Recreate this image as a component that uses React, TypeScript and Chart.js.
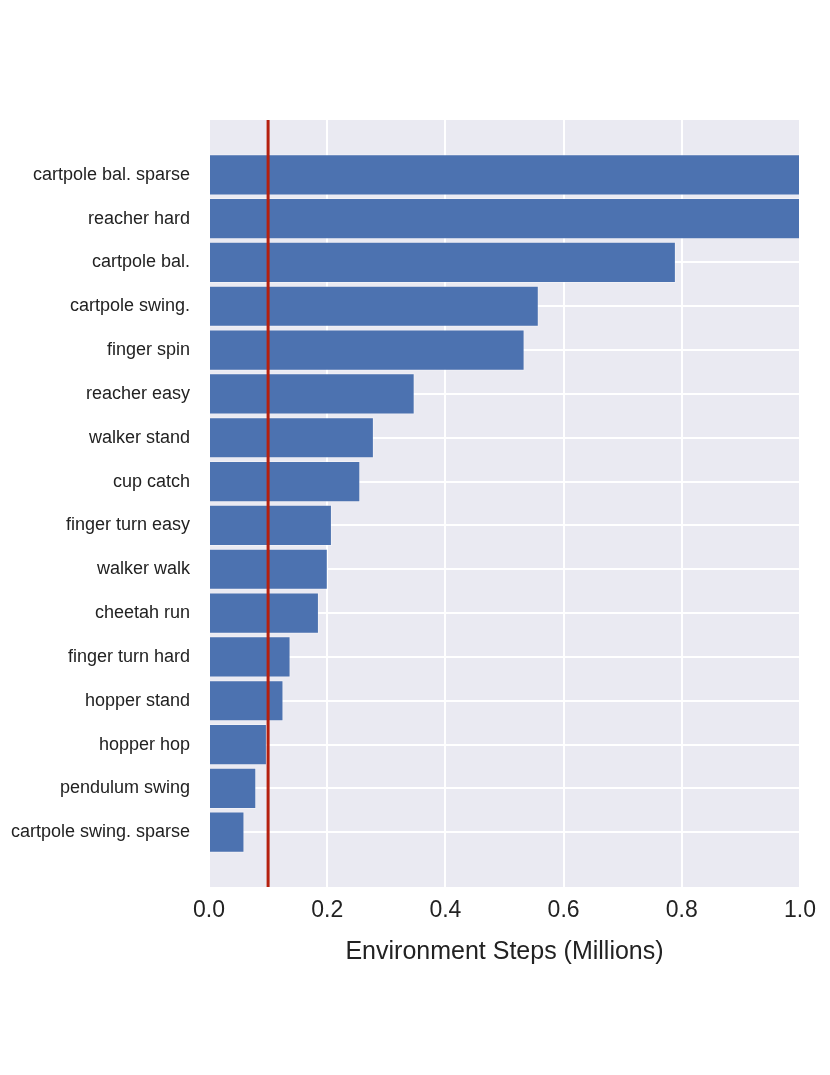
import { useEffect, useRef } from "react";
import { Chart, registerables } from "chart.js";
Chart.register(...registerables);

const tasks = [
  "cartpole bal. sparse",
  "reacher hard",
  "cartpole bal.",
  "cartpole swing.",
  "finger spin",
  "reacher easy",
  "walker stand",
  "cup catch",
  "finger turn easy",
  "walker walk",
  "cheetah run",
  "finger turn hard",
  "hopper stand",
  "hopper hop",
  "pendulum swing",
  "cartpole swing. sparse",
];
const steps = [1.0, 1.0, 0.79, 0.558, 0.534, 0.348, 0.279, 0.256, 0.208, 0.201, 0.186, 0.138, 0.126, 0.098, 0.08, 0.06];
const xTicks = [0, 0.2, 0.4, 0.6, 0.8, 1.0];
const marker = 0.1;
const yRange = [-1.25, 16.25];

const FONT = "'Liberation Sans', Arial, sans-serif";

const bgPlugin = {
  id: "bg",
  beforeDraw(chart: any) {
    const { ctx, chartArea: a } = chart;
    ctx.save();
    ctx.fillStyle = "#EAEAF2";
    ctx.fillRect(a.left, a.top, a.right - a.left, a.bottom - a.top);
    ctx.restore();
  },
};

function StepsChart() {
  const canvasRef = useRef<HTMLCanvasElement>(null);

  useEffect(() => {
    if (!canvasRef.current) return;
    const ctx = canvasRef.current.getContext("2d");
    if (!ctx) return;

    const chart = new Chart(ctx, {
      type: "bar",
      data: {
        datasets: [
          {
            type: "line",
            data: yRange.map((y) => ({ x: marker, y })),
            borderColor: "#B5200F",
            borderWidth: 3,
            pointRadius: 0,
            order: 0,
          } as any,
          {
            type: "bar",
            data: steps.map((v, i) => ({ x: v, y: i })),
            backgroundColor: "#4C72B0",
            borderColor: "rgba(255,255,255,0.35)",
            borderWidth: 1,
            barPercentage: 0.94,
            categoryPercentage: 1,
            order: 1,
          },
        ],
      },
      options: {
        indexAxis: "y",
        responsive: false,
        animation: false,
        layout: { padding: { left: 0, right: 30, top: 120, bottom: 0 } },
        plugins: { legend: { display: false }, tooltip: { enabled: false } },
        scales: {
          y: {
            type: "linear",
            reverse: true,
            offset: false,
            min: yRange[0],
            max: yRange[1],
            afterBuildTicks: (scale: any) => {
              scale.ticks = tasks.map((_, i) => ({ value: i }));
            },
            afterFit: (scale: any) => {
              scale.width = 209;
            },
            ticks: {
              callback: (v: any) => tasks[v] ?? "",
              font: { family: FONT, size: 18 },
              color: "#222",
              padding: 19,
            },
            grid: { color: "#fff", lineWidth: 2, drawTicks: false, offset: false },
            border: { display: false },
          },
          x: {
            type: "linear",
            min: 0,
            max: 1,
            afterBuildTicks: (scale: any) => {
              scale.ticks = xTicks.map((value) => ({ value }));
            },
            afterFit: (scale: any) => {
              scale.height = 188;
            },
            ticks: {
              callback: (v: any) => Number(v).toFixed(1),
              font: { family: FONT, size: 23 },
              color: "#222",
              padding: 10,
              maxRotation: 0,
            },
            grid: { color: "#fff", lineWidth: 2, drawTicks: false, offset: false },
            border: { display: false },
            title: {
              display: true,
              text: "Environment Steps (Millions)",
              font: { family: FONT, size: 25 },
              color: "#222",
              padding: { top: 0, bottom: 108 },
            },
          },
        },
      },
      plugins: [bgPlugin],
    });

    return () => chart.destroy();
  }, []);

  return <canvas ref={canvasRef} width={830} height={1075} style={{ display: "block" }} />;
}

export default function App() {
  return (
    <div style={{ position: "absolute", left: 0, top: 0, width: 830, height: 1075, background: "#fff" }}>
      <StepsChart />
    </div>
  );
}
